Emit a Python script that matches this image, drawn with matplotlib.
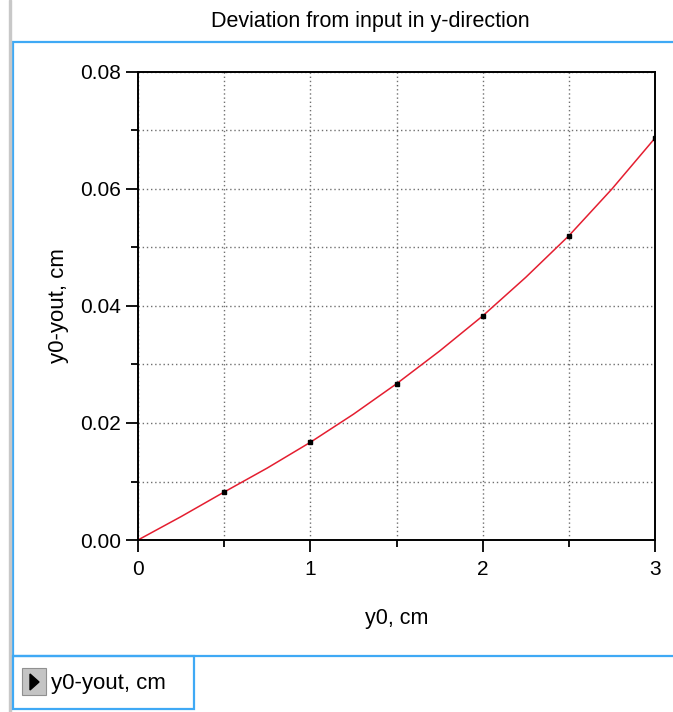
import numpy as np
import matplotlib
matplotlib.use("Agg")
import matplotlib.pyplot as plt
from matplotlib.patches import Rectangle, Polygon

plt.rcParams['font.family'] = ['Liberation Sans', 'DejaVu Sans']

# sample points (markers)
y0_pts = [0.5, 1.0, 1.5, 2.0, 2.5, 3.0]
dev_pts = [0.0082, 0.0167, 0.0267, 0.0383, 0.0520, 0.0687]

# curve
y0_curve = [0.0, 0.25, 0.5, 0.75, 1.0, 1.25, 1.5, 1.75, 2.0, 2.25, 2.5, 2.75, 3.0]
dev_curve = [0.0, 0.0040, 0.0082, 0.0123, 0.0167, 0.0215, 0.0267, 0.0323, 0.0383,
             0.0449, 0.0520, 0.0600, 0.0687]

W, H = 673, 712
fig = plt.figure(figsize=(W / 100, H / 100), dpi=100)

blue = '#3fa9f5'
# outer panel (open to the right) + left grey edge
fig.patches.append(Rectangle((13 / W, 1 - 656 / H), 700 / W, 614 / H,
                             transform=fig.transFigure, fill=False,
                             edgecolor=blue, linewidth=1.6))
fig.patches.append(Rectangle((9 / W, 0), 2 / W, 1,
                             transform=fig.transFigure, color='#c8c8c8'))
# legend box at the bottom
fig.patches.append(Rectangle((13 / W, 1 - 709 / H), 181 / W, 53 / H,
                             transform=fig.transFigure, fill=False,
                             edgecolor=blue, linewidth=1.6))
fig.patches.append(Rectangle((22 / W, 1 - 695 / H), 24 / W, 27 / H,
                             transform=fig.transFigure, facecolor='#c4c4c4',
                             edgecolor='#909090', linewidth=0.8))
fig.patches.append(Polygon([(30 / W, 1 - 674 / H), (30 / W, 1 - 690 / H),
                            (39 / W, 1 - 682 / H)],
                           transform=fig.transFigure, color='black'))
fig.text(51 / W, 1 - 683 / H, 'y0-yout, cm', fontsize=16, va='center', ha='left')

fig.text(370 / W, 1 - 21 / H, 'Deviation from input in y-direction',
         fontsize=15.5, ha='center', va='center')

ax = fig.add_axes([138 / W, 1 - 540 / H, 517 / W, 468 / H])
ax.plot(y0_curve, dev_curve, color='#e41e30', linewidth=1.1)
ax.plot(y0_pts, dev_pts, linestyle='none', marker='s', markersize=3.2,
        color='black')

ax.set_xlim(0, 3)
ax.set_ylim(0, 0.08)
ax.set_xticks([0, 1, 2, 3])
ax.set_xticks(np.arange(0.5, 3, 1), minor=True)
ax.set_yticks([0, 0.02, 0.04, 0.06, 0.08])
ax.set_yticks([0.01, 0.03, 0.05, 0.07], minor=True)
ax.set_yticklabels(['0.00', '0.02', '0.04', '0.06', '0.08'])
ax.tick_params(which='major', direction='out', length=8.5, width=1.3,
               labelsize=15)
ax.tick_params(which='minor', direction='out', length=5, width=1.3)
ax.tick_params(axis='x', which='major', pad=6)
ax.tick_params(axis='y', which='major', pad=4)
ax.grid(True, which='both', linestyle=(0, (1, 2)), color='#707070', linewidth=1)
for s in ax.spines.values():
    s.set_linewidth(1.4)

ax.set_xlabel('y0, cm', fontsize=15.5, labelpad=21)
ax.set_ylabel('y0-yout, cm', fontsize=16, labelpad=8)

fig.savefig('out.png', dpi=100)
